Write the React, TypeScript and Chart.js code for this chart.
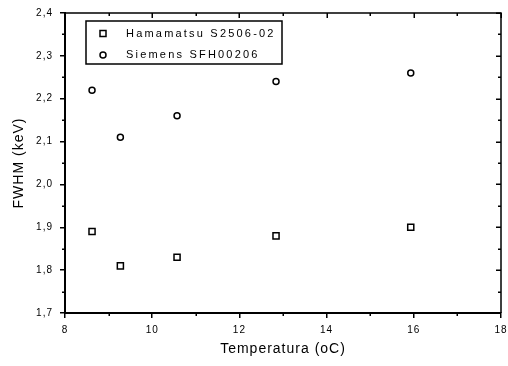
import React, { useEffect, useRef } from 'react';
import { Chart, registerables } from 'chart.js';
Chart.register(...registerables);

const temperatures = [8.62, 9.27, 10.57, 12.84, 15.93];
const hamamatsuFwhm = [1.89, 1.81, 1.83, 1.88, 1.90];
const siemensFwhm = [2.22, 2.11, 2.16, 2.24, 2.26];
const seriesLabels = ['Hamamatsu S2506-02', 'Siemens SFH00206'];
const xTitle = 'Temperatura (oC)';
const yTitle = 'FWHM (keV)';
const xMin = 8, xMax = 18, xMajor = 2, xMinorStep = 1;
const yMin = 1.7, yMax = 2.4, yMajor = 0.1, yMinorStep = 0.05;

const FONT = "'Liberation Sans', Arial, sans-serif";

const framePlugin = {
  id: 'frame',
  beforeDraw(chart: any) {
    chart.ctx.letterSpacing = '1px';
  },
  afterDraw(chart: any) {
    const { ctx, chartArea: a, scales } = chart;
    const xs = scales.x, ys = scales.y;
    ctx.save();
    ctx.letterSpacing = '0px';
    ctx.strokeStyle = '#000';
    ctx.lineWidth = 1.5;
    ctx.beginPath();
    ctx.moveTo(a.left, a.top);
    ctx.lineTo(a.right, a.top);
    ctx.lineTo(a.right, a.bottom);
    ctx.stroke();
    ctx.lineWidth = 1.5;
    ctx.beginPath();
    const nx = Math.round((xMax - xMin) / xMinorStep);
    for (let i = 0; i <= nx; i++) {
      const v = xMin + i * xMinorStep;
      const px = Math.round(xs.getPixelForValue(v)) + 0.25;
      const major = Math.abs(v / xMajor - Math.round(v / xMajor)) < 1e-6;
      const len = major ? 5 : 3;
      ctx.moveTo(px, a.top);
      ctx.lineTo(px, a.top + len);
      if (!major) {
        ctx.moveTo(px, a.bottom);
        ctx.lineTo(px, a.bottom + len);
      }
    }
    const ny = Math.round((yMax - yMin) / yMinorStep);
    for (let i = 0; i <= ny; i++) {
      const v = yMin + i * yMinorStep;
      const py = Math.round(ys.getPixelForValue(v)) + 0.25;
      const major = i % 2 === 0;
      const len = major ? 5 : 3;
      ctx.moveTo(a.right, py);
      ctx.lineTo(a.right - len, py);
      if (!major) {
        ctx.moveTo(a.left, py);
        ctx.lineTo(a.left - len, py);
      }
    }
    ctx.stroke();

    // legend
    const bx = 86, by = 21, bw = 196, bh = 43;
    ctx.fillStyle = '#fff';
    ctx.fillRect(bx, by, bw, bh);
    ctx.lineWidth = 1.5;
    ctx.strokeRect(bx, by, bw, bh);
    const rows = [33.5, 55];
    ctx.strokeRect(100, rows[0] - 3, 6, 6);
    ctx.beginPath();
    ctx.arc(103, rows[1], 3, 0, Math.PI * 2);
    ctx.stroke();
    ctx.fillStyle = '#000';
    ctx.font = `11px ${FONT}`;
    ctx.letterSpacing = '2.2px';
    ctx.textBaseline = 'middle';
    ctx.textAlign = 'left';
    ctx.fillText(seriesLabels[0], 126, rows[0]);
    ctx.fillText(seriesLabels[1], 126, rows[1]);
    ctx.restore();
  },
};

export default function App() {
  const ref = useRef<HTMLCanvasElement>(null);
  useEffect(() => {
    document.body.style.margin = '0';
    const chart = new Chart(ref.current!, {
      type: 'scatter',
      data: {
        datasets: [
          {
            label: seriesLabels[0],
            data: temperatures.map((t, i) => ({ x: t, y: hamamatsuFwhm[i] })),
            pointStyle: 'rect',
            pointRadius: 4.3,
            pointBorderWidth: 1.5,
            pointBorderColor: '#000',
            pointBackgroundColor: '#fff',
          },
          {
            label: seriesLabels[1],
            data: temperatures.map((t, i) => ({ x: t, y: siemensFwhm[i] })),
            pointStyle: 'circle',
            pointRadius: 3,
            pointBorderWidth: 1.5,
            pointBorderColor: '#000',
            pointBackgroundColor: '#fff',
          },
        ],
      },
      options: {
        responsive: false,
        animation: false,
        devicePixelRatio: 1,
        layout: { padding: { top: 13, right: 7, left: 0, bottom: 0 } },
        plugins: { legend: { display: false }, tooltip: { enabled: false } },
        scales: {
          x: {
            type: 'linear',
            min: xMin,
            max: xMax,
            afterFit: (s: any) => { s.height = 53; s.paddingLeft = 0; s.paddingRight = 0; },
            ticks: {
              stepSize: xMajor,
              color: '#000',
              font: { family: FONT, size: 10 },
              padding: 6,
              maxRotation: 0,
              callback: (v: any) => String(v),
            },
            grid: { drawOnChartArea: false, drawTicks: true, tickLength: 5, color: '#000', lineWidth: 1.5 },
            border: { display: true, color: '#000', width: 2 },
            title: { display: true, text: xTitle, color: '#000', font: { family: FONT, size: 14 }, padding: { top: 0, bottom: 8 } },
          },
          y: {
            type: 'linear',
            min: yMin,
            max: yMax,
            afterFit: (s: any) => { s.width = 65; s.paddingTop = 0; s.paddingBottom = 0; },
            ticks: {
              stepSize: yMajor,
              color: '#000',
              font: { family: FONT, size: 10 },
              padding: 7,
              callback: (v: any) => Number(v).toFixed(1).replace('.', ','),
            },
            grid: { drawOnChartArea: false, drawTicks: true, tickLength: 5, color: '#000', lineWidth: 1.5 },
            border: { display: true, color: '#000', width: 2 },
            title: { display: true, text: yTitle, color: '#000', font: { family: FONT, size: 14 }, padding: { top: 11, bottom: 0 } },
          },
        },
      },
      plugins: [framePlugin],
    });
    return () => chart.destroy();
  }, []);
  return <canvas ref={ref} width={508} height={366} style={{ display: 'block' }} />;
}
